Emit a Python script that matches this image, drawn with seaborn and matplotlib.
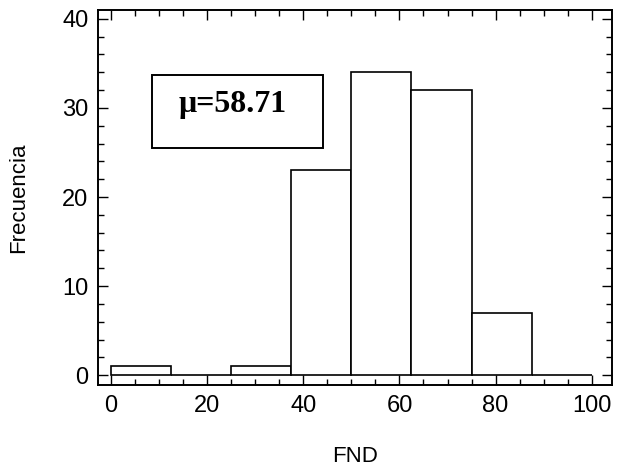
import numpy as np
import pandas as pd
import matplotlib
matplotlib.use("Agg")
import matplotlib.pyplot as plt
import seaborn as sns
from matplotlib.patches import Rectangle
from matplotlib.ticker import MultipleLocator

# Histogram of FND: bin edges and counts
bin_edges = [0, 12.5, 25, 37.5, 50, 62.5, 75, 87.5, 100]
bin_mids = [6.25, 18.75, 31.25, 43.75, 56.25, 68.75, 81.25, 93.75]
counts = [1, 0, 1, 23, 34, 32, 7, 0]
mean_label = "\u03bc=58.71"

df = pd.DataFrame({"FND": bin_mids, "count": counts})

sns.set_style("ticks")
plt.rcParams["font.family"] = ["Liberation Sans", "DejaVu Sans"]
plt.rcParams["text.color"] = "black"
plt.rcParams["axes.labelcolor"] = "black"
plt.rcParams["xtick.labelcolor"] = "black"
plt.rcParams["ytick.labelcolor"] = "black"

fig = plt.figure(figsize=(6.25, 4.73), dpi=100)
ax = fig.add_axes([0.157, 0.186, 0.822, 0.793])

sns.histplot(data=df, x="FND", weights="count", bins=bin_edges,
             color="white", edgecolor="black", linewidth=1.2, alpha=1, ax=ax)

ax.set_xlim(-2.7, 104.2)
ax.set_ylim(-1.1, 41)
ax.xaxis.set_major_locator(MultipleLocator(20))
ax.xaxis.set_minor_locator(MultipleLocator(5))
ax.yaxis.set_major_locator(MultipleLocator(10))
ax.yaxis.set_minor_locator(MultipleLocator(2))
ax.tick_params(which="both", direction="in", top=True, right=True,
               color="black", width=1.0)
ax.tick_params(which="major", length=7, labelsize=17, pad=7)
ax.tick_params(which="minor", length=4)
for s in ax.spines.values():
    s.set_visible(True)
    s.set_linewidth(1.4)
    s.set_color("black")

ax.set_xlabel("FND", fontsize=16, labelpad=21)
ax.set_ylabel("Frecuencia", fontsize=16, labelpad=24)

# annotation box with the mean
ax.add_patch(Rectangle((8.5, 25.5), 35.5, 8.2, facecolor="white",
                       edgecolor="black", linewidth=1.4, zorder=5))
ax.text(25.2, 30.4, mean_label, ha="center", va="center", fontsize=23,
        fontweight="bold", family=["Liberation Serif", "DejaVu Serif"], zorder=6)

fig.savefig("out.png", dpi=100)
